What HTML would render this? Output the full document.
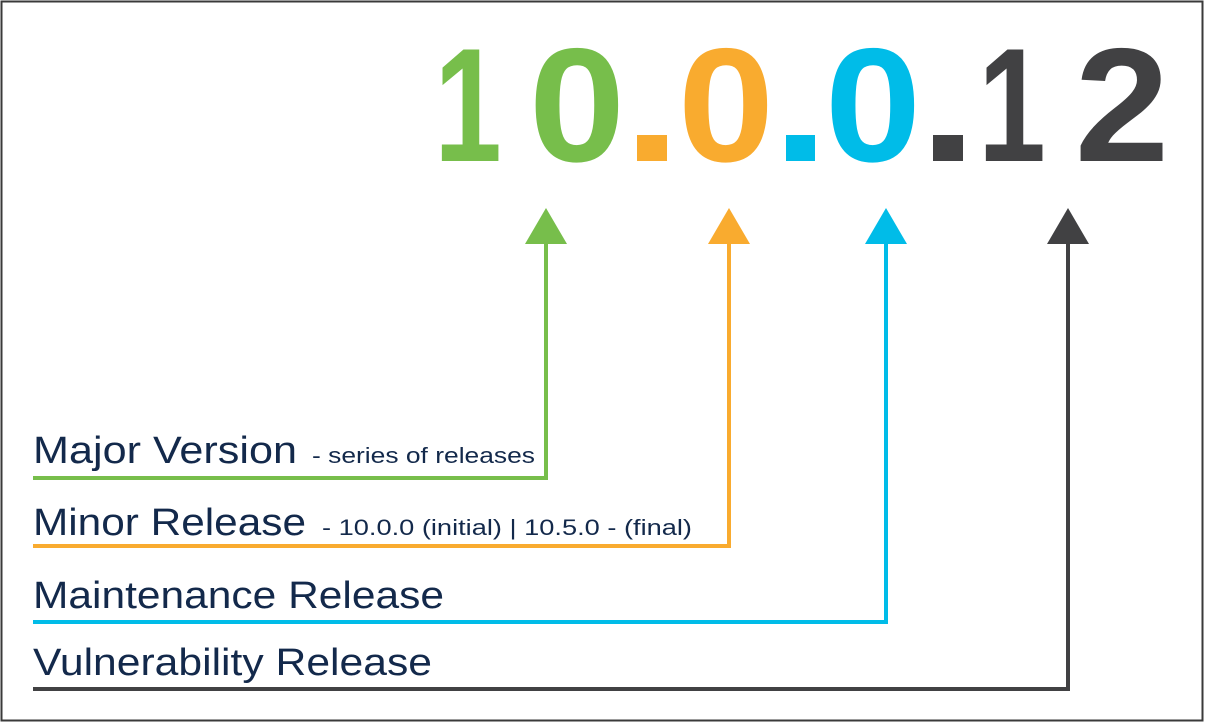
<!DOCTYPE html>
<html><head><meta charset="utf-8"><style>
html,body{margin:0;padding:0;background:#fff;}
svg{display:block;}
</style></head><body>
<svg width="1205" height="725" viewBox="0 0 1205 725" xmlns="http://www.w3.org/2000/svg">
<rect x="1.5" y="1.5" width="1201" height="719" fill="#fff" stroke="#3a3a3a" stroke-width="2"/>
<g font-family="Liberation Sans, sans-serif" font-weight="bold" font-size="162" text-anchor="middle">
<text transform="translate(468,161) scale(0.75,1)" fill="#77be4b">1</text>
<text transform="translate(577,161) scale(1.07,1)" fill="#77be4b">0</text>
<text transform="translate(726,161) scale(1.07,1)" fill="#f9ab2f">0</text>
<text transform="translate(873,161) scale(1.07,1)" fill="#00bce8">0</text>
<text transform="translate(1012,161) scale(0.75,1)" fill="#414143">1</text>
<text transform="translate(1122,161) scale(1.05,1)" fill="#414143">2</text>
</g>
<rect x="637" y="135" width="30" height="26" fill="#f9ab2f"/>
<rect x="786" y="135" width="29" height="26" fill="#00bce8"/>
<rect x="933" y="135" width="30" height="26" fill="#414143"/>
<g fill="none" stroke-width="4">
<polyline points="33,478 546,478 546,240" stroke="#77be4b"/>
<polyline points="33,546 729,546 729,240" stroke="#f9ab2f"/>
<polyline points="33,622 886,622 886,240" stroke="#00bce8"/>
<polyline points="33,689 1068,689 1068,240" stroke="#414143"/>
</g>
<polygon points="546,208 567,244 525,244" fill="#77be4b"/>
<polygon points="729,208 750,244 708,244" fill="#f9ab2f"/>
<polygon points="886,208 907,244 865,244" fill="#00bce8"/>
<polygon points="1068,208 1089,244 1047,244" fill="#414143"/>
<g font-family="Liberation Sans, sans-serif" fill="#13294b">
<text x="33" y="463" font-size="38" textLength="264" lengthAdjust="spacingAndGlyphs">Major Version</text>
<text x="312" y="463" font-size="22" textLength="223" lengthAdjust="spacingAndGlyphs">- series of releases</text>
<text x="33" y="535" font-size="38" textLength="273" lengthAdjust="spacingAndGlyphs">Minor Release</text>
<text x="322" y="535" font-size="22" textLength="370" lengthAdjust="spacingAndGlyphs">- 10.0.0 (initial) | 10.5.0 - (final)</text>
<text x="33" y="608" font-size="38" textLength="411" lengthAdjust="spacingAndGlyphs">Maintenance Release</text>
<text x="33" y="675" font-size="38" textLength="399" lengthAdjust="spacingAndGlyphs">Vulnerability Release</text>
</g>
</svg>
</body></html>
